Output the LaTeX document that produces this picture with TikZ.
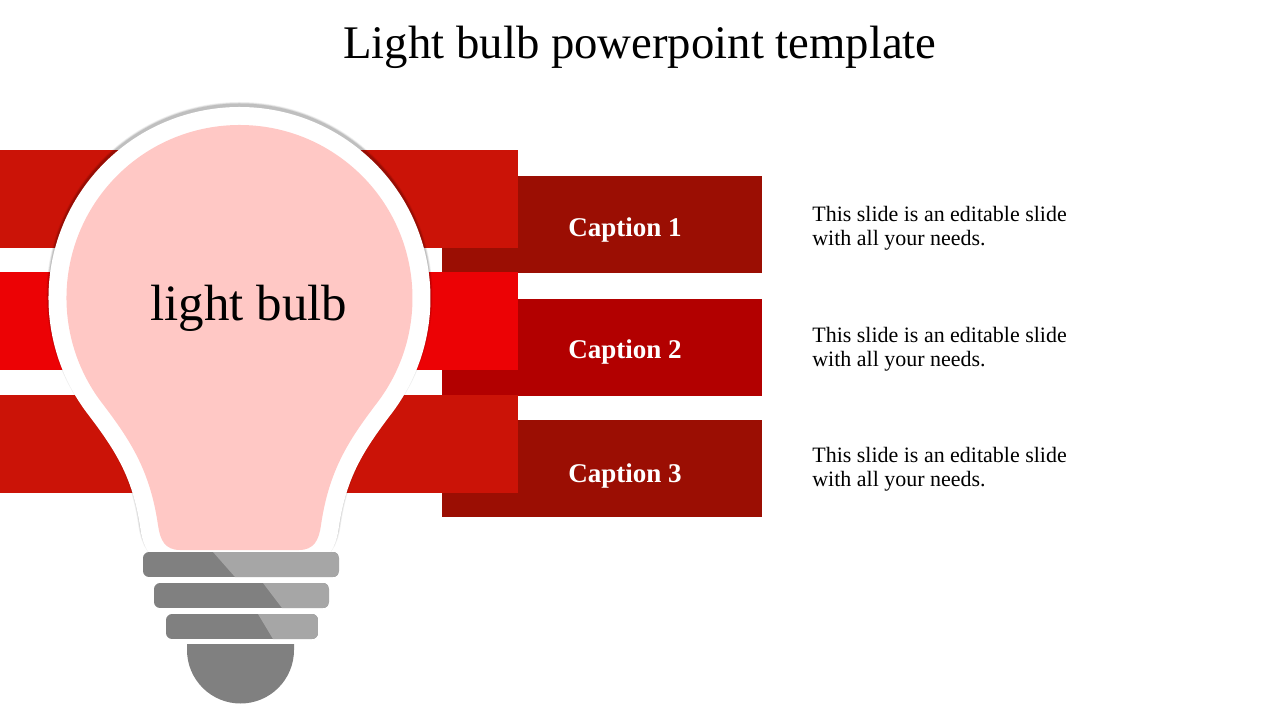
\documentclass[tikz,border=0pt]{standalone}
\usepackage{fontspec}
\setmainfont{Liberation Serif}

\definecolor{bandred}{RGB}{203,19,7}
\definecolor{bandbright}{RGB}{236,2,5}
\definecolor{boxdark}{RGB}{155,14,3}
\definecolor{boxmid}{RGB}{178,0,0}
\definecolor{bulbpink}{RGB}{255,200,197}
\definecolor{basedark}{RGB}{128,128,128}
\definecolor{baselight}{RGB}{166,166,166}

\newcommand\bulbshape{(180,550) -- (299,550)
    .. controls (314,550) and (319,540) .. (321,525)
    .. controls (329,470) and (349,440) .. (375.8,404.5)
    arc[start angle=38, end angle=-218, radius=173]
    .. controls (130,440) and (150,470) .. (158,525)
    .. controls (160,540) and (165,550) .. (180,550) -- cycle}

\begin{document}
\begin{tikzpicture}
    [%%%%%%%%%%%%%%%%%%%%%%%%%%%%%%
        x=0.02cm, y=-0.02cm,
        shade/.style={draw=black, opacity=#1},
        caption/.style={anchor=base, text=white, inner sep=0pt, font=\bfseries\fontsize{15.4}{18}\selectfont},
        note/.style={anchor=base west, align=left, inner sep=0pt, font=\fontsize{12.5}{13.2}\selectfont},
    ]%%%%%%%%%%%%%%%%%%%%%%%%%%%%%%

\useasboundingbox (0,0) rectangle (1280,720);
\fill[white] (0,0) rectangle (1280,720);

\node[anchor=base, inner sep=0pt, font=\fontsize{26.6}{30}\selectfont] (title) at (640,58) {Light bulb powerpoint template};

\foreach \y/\c in {176/boxdark, 299/boxmid, 420/boxdark}
    \fill[\c] (442,\y) rectangle (762,\y+97);

\foreach \y/\c in {150/bandred, 272/bandbright, 395/bandred}
    \fill[\c] (0,\y) rectangle (518,\y+98);

\begin{scope}[yshift=0.06cm]
    \draw[shade=0.06, line width=0.80cm] \bulbshape;
    \draw[shade=0.09, line width=0.77cm] \bulbshape;
    \draw[shade=0.12, line width=0.74cm] \bulbshape;
\end{scope}
\fill[bulbpink, preaction={draw=white, line width=0.72cm}] \bulbshape;

\foreach \t/\l/\r/\a/\b in {552/143/339/213/235, 583/154/329/263/282, 614/166/318/258/273}{
    \begin{scope}
        \clip[rounded corners=3.5pt] (\l,\t) rectangle (\r,\t+25);
        \fill[basedark] (\l,\t) rectangle (\r,\t+25);
        \fill[baselight] (\a,\t) -- (\r,\t) -- (\r,\t+25) -- (\b,\t+25) -- cycle;
    \end{scope}
}
\fill[basedark] (187,644) -- (294,644) -- (294,650) arc[start angle=0, end angle=180, radius=53.5] -- cycle;

\node[anchor=base, inner sep=0pt, font=\fontsize{29}{34}\selectfont] (bulbtext) at (249,320) {light bulb};

\foreach \i/\y in {1/236, 2/358, 3/482}
    \node[caption] (cap\i) at (625,\y) {Caption \i};

\foreach \i/\y in {1/245, 2/366, 3/486}
    \node[note] (note\i) at (812,\y) {This slide is an editable slide\\with all your needs.};
\end{tikzpicture}
\end{document}
